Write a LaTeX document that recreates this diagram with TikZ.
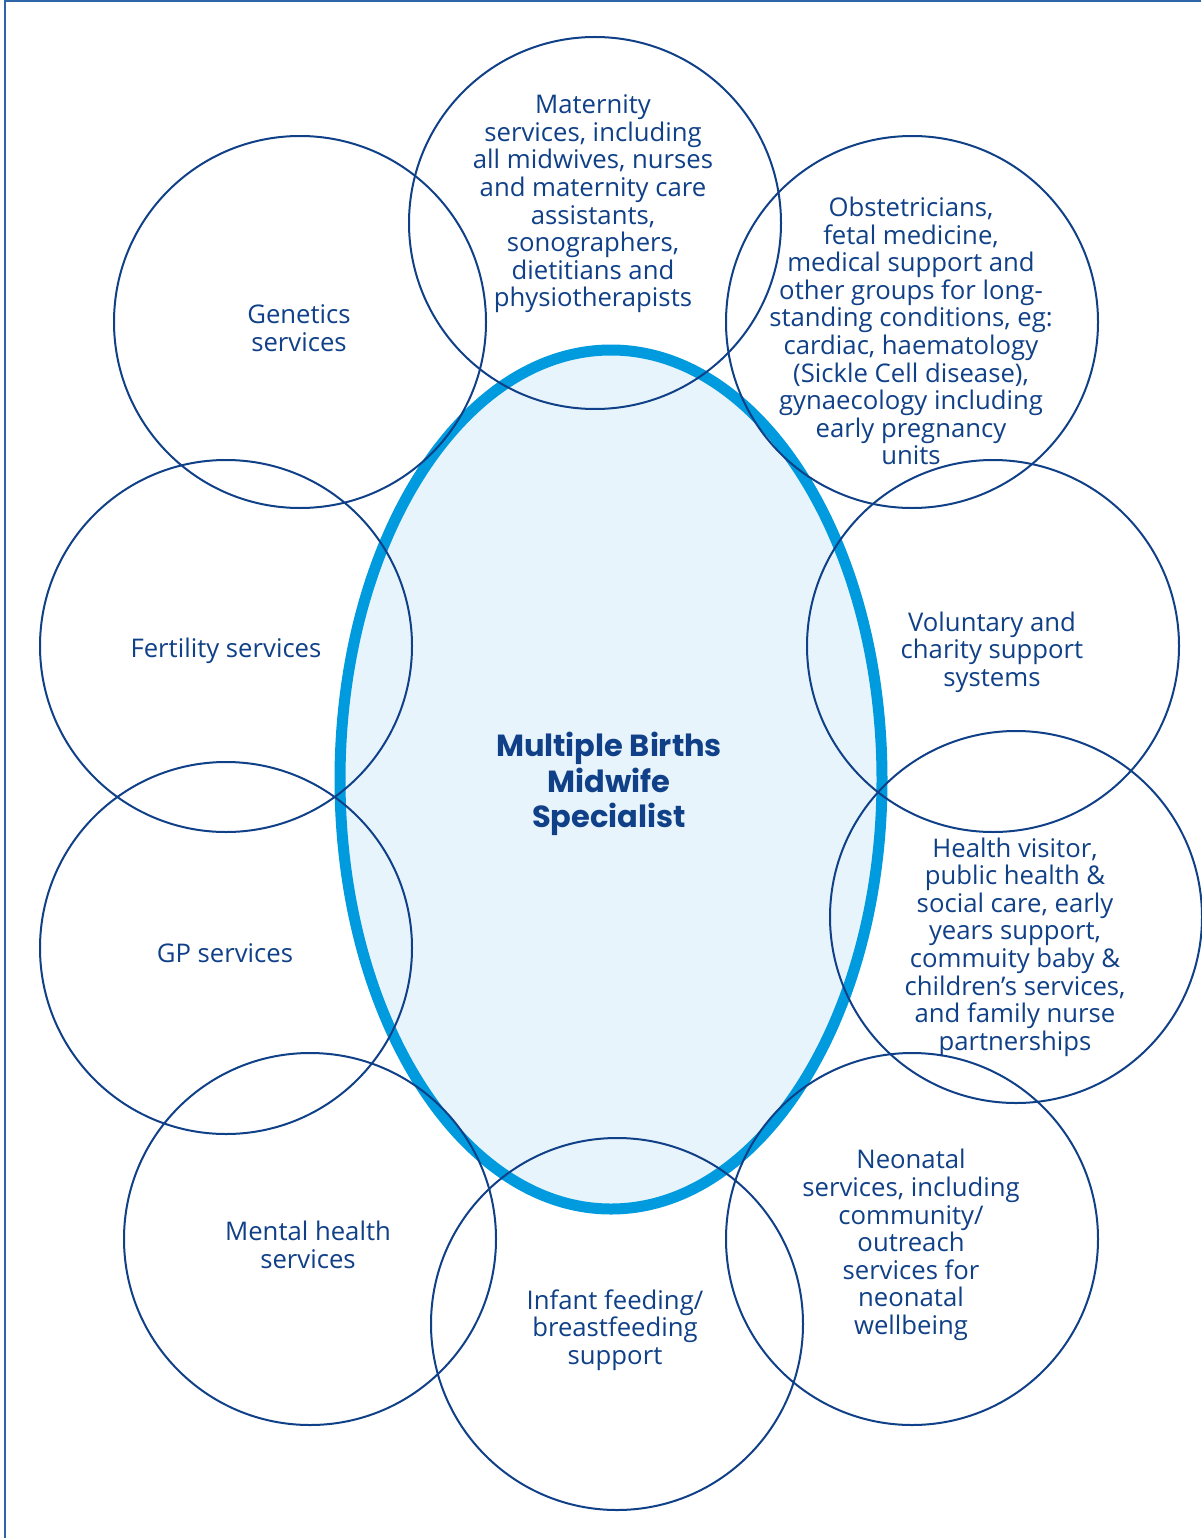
\documentclass[tikz,border=0pt]{standalone}
\usepackage{fontspec}
\setmainfont{Open Sans}
\newfontfamily\headfont{Poppins}
\usepackage{tikz}
\usetikzlibrary{shapes.geometric}
\definecolor{mbnavy}{RGB}{16,64,135}
\definecolor{mbblue}{RGB}{0,155,222}
\definecolor{mbpale}{RGB}{232,244,252}
\definecolor{mbframe}{RGB}{46,100,168}
\tikzset{
  svc/.style={circle, draw=mbnavy, line width=2pt, minimum size=372pt, inner sep=0pt},
  svctext/.style={align=center, text=mbnavy, inner sep=0pt, yshift=-2pt,
    font=\fontsize{25.7}{27.6}\selectfont},
  hub/.style={ellipse, draw=mbblue, fill=mbpale, line width=11pt,
    minimum width=542pt, minimum height=859pt, inner sep=0pt},
  hubtext/.style={align=center, text=mbnavy, inner sep=0pt, yshift=-1pt,
    font=\headfont\bfseries\fontsize{30.5}{35.5}\selectfont},
  frame/.style={draw=mbframe, line width=1.5pt}
}
\newcommand{\mbservice}[4] {\node at (#1) (#2) [svc] {}; \node at (#3) (#2-txt) [svctext] {#4};}
\begin{document}
\begin{tikzpicture}[x=1pt,y=-1pt]
\useasboundingbox (0,0) rectangle (1201,1538);
\fill[white] (0,0) rectangle (1201,1538);
\draw [frame] (1201,1) -- (5,1) -- (5,1538);

% central specialist
\node at (611,779.5) (hub) [hub] {};
\node at (609,783) (hub-txt) [hubtext] {Multiple Births\\Midwife\\Specialist};

% surrounding services
\mbservice {300,322}{genetics}{299,326}{Genetics\\services}
\mbservice {595,223}{maternity}{593,202}{Maternity\\services, including\\all midwives, nurses\\and maternity care\\assistants,\\sonographers,\\dietitians and\\physiotherapists}
\mbservice {912,322}{obstetrics}{911,329}{\fontsize{25.7}{26.7}\selectfont Obstetricians,\\fetal medicine,\\medical support and\\other groups for long-\\standing conditions, eg:\\cardiac, haematology\\(Sickle Cell disease),\\gynaecology including\\early pregnancy\\units}
\mbservice {226,646}{fertility}{226,649}{Fertility services}
\mbservice {993,646}{voluntary}{992,650}{Voluntary and\\charity support\\systems}
\mbservice {226,948}{gp}{225,951}{GP services}
\mbservice {1016,917}{healthvisitor}{1015,945}{Health visitor,\\public health \&\\social care, early\\years support,\\commuity baby \&\\children’s services,\\and family nurse\\partnerships}
\mbservice {310,1239}{mental}{308,1243}{Mental health\\services}
\mbservice {617,1324}{feeding}{615,1328}{Infant feeding/\\breastfeeding\\support}
\mbservice {912,1239}{neonatal}{911,1243}{Neonatal\\services, including\\community/\\outreach\\services for\\neonatal\\wellbeing}
\end{tikzpicture}
\end{document}
